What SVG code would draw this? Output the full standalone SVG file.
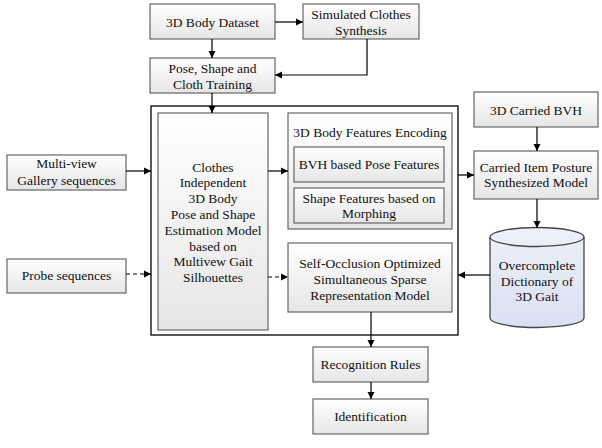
<svg xmlns="http://www.w3.org/2000/svg" width="602" height="448" viewBox="0 0 602 448" font-family="'Liberation Serif', 'Times New Roman', serif">
<defs>
<linearGradient id="g" x1="0" y1="0" x2="0" y2="1"><stop offset="0" stop-color="#ffffff"/><stop offset="1" stop-color="#e6e6e6"/></linearGradient>
<linearGradient id="gb" x1="0" y1="0" x2="0" y2="1"><stop offset="0" stop-color="#eef1fa"/><stop offset="1" stop-color="#d9e0f2"/></linearGradient>
<marker id="ah" markerWidth="8" markerHeight="8" refX="7" refY="4" orient="auto" markerUnits="userSpaceOnUse"><path d="M0,0.5 L7,4 L0,7.5 Z" fill="#000"/></marker>
</defs>
<style>
.b{fill:url(#g);stroke:#666;stroke-width:1.2}
.c{fill:none;stroke:#000;stroke-width:1.3}
text{font-family:'Liberation Serif','Times New Roman',serif;font-size:13.5px;fill:#111;text-anchor:middle}
.l{fill:none;stroke:#000;stroke-width:1.2;marker-end:url(#ah)}
.d{stroke-dasharray:4,3}
</style>
<rect width="602" height="448" fill="#fff"/>
<g id="container"><rect x="151" y="106" width="307" height="229" class="c"/></g>
<g id="dataset"><rect x="150" y="4" width="125" height="35" class="b"/><text x="212.5" y="27">3D Body Dataset</text></g>
<g id="simulated"><rect x="303" y="4" width="116" height="35" class="b"/><text x="361" y="19">Simulated Clothes</text><text x="361" y="35">Synthesis</text></g>
<g id="training"><rect x="150" y="58" width="125" height="35" class="b"/><text x="212.5" y="73">Pose, Shape and</text><text x="212.5" y="89">Cloth Training</text></g>
<g id="gallery"><rect x="7" y="155" width="119" height="35" class="b"/><text x="66.5" y="168">Multi-view</text><text x="66.5" y="185">Gallery sequences</text></g>
<g id="probe"><rect x="7" y="259" width="119" height="34" class="b"/><text x="66.5" y="280">Probe sequences</text></g>
<g id="estimation"><rect x="158" y="113" width="110" height="217" class="b"/>
<text x="213" y="172">Clothes</text><text x="213" y="187">Independent</text><text x="213" y="203">3D Body</text><text x="213" y="219">Pose and Shape</text><text x="213" y="235">Estimation Model</text><text x="213" y="251">based on</text><text x="213" y="266">Multivew Gait</text><text x="213" y="282">Silhouettes</text></g>
<g id="encoding"><rect x="288" y="113" width="164" height="116" class="b"/><text x="370" y="137">3D Body Features Encoding</text>
<g id="bvh"><rect x="294" y="147" width="150" height="35" class="b"/><text x="369" y="169">BVH based Pose Features</text></g>
<g id="shape"><rect x="294" y="188" width="150" height="35" class="b"/><text x="369" y="203">Shape Features based on</text><text x="369" y="218">Morphing</text></g></g>
<g id="sparse"><rect x="288" y="243" width="164" height="69" class="b"/><text x="370" y="268">Self-Occlusion Optimized</text><text x="370" y="284">Simultaneous Sparse</text><text x="370" y="300">Representation Model</text></g>
<g id="carriedbvh"><rect x="474" y="92" width="124" height="35" class="b"/><text x="536" y="115">3D Carried BVH</text></g>
<g id="carried"><rect x="474" y="151" width="124" height="48" class="b"/><text x="536" y="172">Carried Item Posture</text><text x="536" y="187">Synthesized Model</text></g>
<g id="dictionary"><path d="M490,237 A47,9.5 0 0 1 584,237 L584,318 A47,9.5 0 0 1 490,318 Z" fill="url(#gb)" stroke="#444" stroke-width="1.3"/><path d="M490,237 A47,9.5 0 0 0 584,237" fill="none" stroke="#444" stroke-width="1.3"/>
<text x="537" y="270">Overcomplete</text><text x="537" y="286">Dictionary of</text><text x="537" y="301">3D Gait</text></g>
<g id="recognition"><rect x="313" y="347" width="115" height="35" class="b"/><text x="370.5" y="369">Recognition Rules</text></g>
<g id="identification"><rect x="313" y="399" width="115" height="35" class="b"/><text x="370.5" y="421">Identification</text></g>
<g id="connectors">
<path class="l" d="M275,22 H303"/>
<path class="l" d="M212,39 V58"/>
<path class="l" d="M367,39 V75 H275"/>
<path class="l" d="M212,93 V113"/>
<path class="l" d="M126,171 H151"/>
<path class="l d" d="M126,274 H151"/>
<path class="l" d="M268,171 H288"/>
<path class="l d" d="M268,277 H288"/>
<path class="l" d="M458,175 H474"/>
<path class="l" d="M537,127 V151"/>
<path class="l" d="M537,199 V228"/>
<path class="l" d="M490,275 H458"/>
<path class="l" d="M371,312 V347"/>
<path class="l" d="M371,382 V399"/>
</g>
</svg>
